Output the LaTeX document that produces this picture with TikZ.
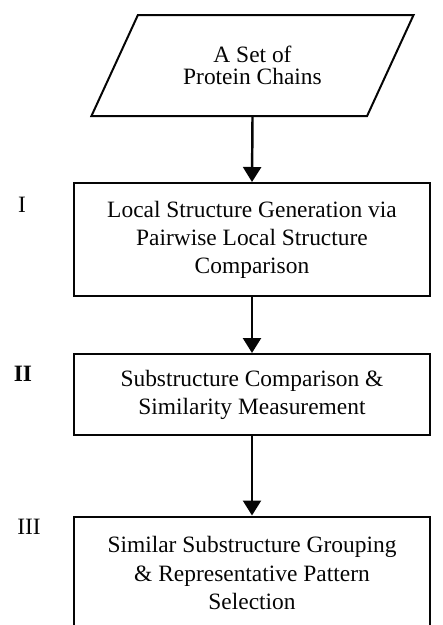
\documentclass[tikz,border=0pt]{standalone}
\usepackage{fontspec}
\setmainfont{Liberation Serif}
\usetikzlibrary{shapes.geometric,arrows.meta}
\begin{document}
\begin{tikzpicture}[outline/.style={draw=fcInk, line width=1.7pt, align=center, font=\fontsize{20}{24}\selectfont}, box/.style={outline, minimum width=10.68cm}, flow/.style={-{Triangle[length=0.45cm, width=0.54cm]}, line width=2.1pt, fcInk}, stage/.style={font=\fontsize{20}{24}\selectfont}, every node/.style={text=fcInk}]
\definecolor{fcInk}{rgb}{0.02,0.02,0.02}
\useasboundingbox (0,0) rectangle (13.29,-18.75);
\node[outline, trapezium, trapezium left angle=57.6, trapezium right angle=122.4, trapezium stretches=true, minimum width=9.69cm, minimum height=3.03cm, font=\fontsize{20}{19}\selectfont] (chains) at (7.575,-1.965) {A Set of\\Protein Chains};
\node[box, minimum height=3.39cm] (local) at (7.56,-7.185) {Local Structure Generation via\\Pairwise Local Structure\\Comparison};
\node[box, minimum height=2.43cm] (compare) at (7.56,-11.835) {Substructure Comparison \&\\Similarity Measurement};
\node[box, minimum height=3.39cm] (group) at (7.56,-17.19) {Similar Substructure Grouping\\\& Representative Pattern\\Selection};
\draw[flow] (chains.south) -- (local.north);
\draw[flow] (local.south) -- (compare.north);
\draw[flow] (compare.south) -- (group.north);
\node[stage] (s1) at (0.66,-6.15) {I};
\node[stage, font=\fontsize{20}{24}\selectfont\bfseries] (s2) at (0.69,-11.22) {II};
\node[stage] (s3) at (0.87,-15.81) {III};
\end{tikzpicture}
\end{document}
